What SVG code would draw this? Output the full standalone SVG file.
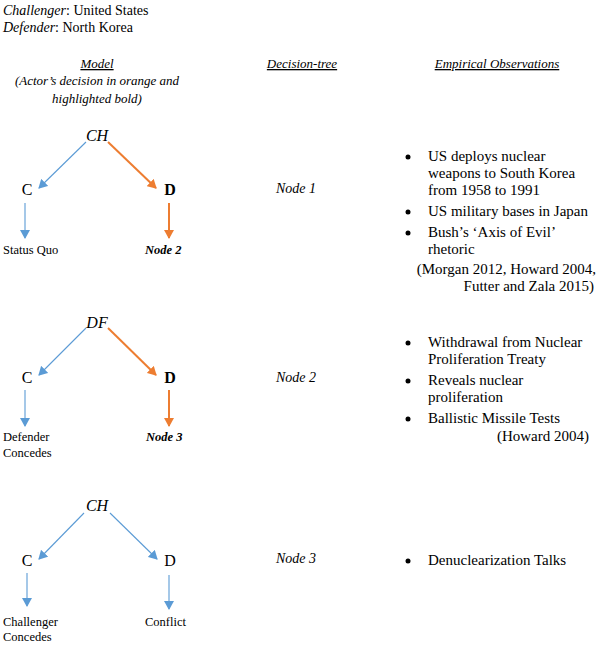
<svg xmlns="http://www.w3.org/2000/svg" width="603" height="651" viewBox="0 0 603 651">
<defs>
<marker id="ab" markerWidth="10" markerHeight="10" refX="8" refY="5" orient="auto" markerUnits="userSpaceOnUse"><path d="M0,0 L9,5 L0,10 z" fill="#5B9BD5"/></marker>
<marker id="ao" markerWidth="10" markerHeight="10" refX="8" refY="5" orient="auto" markerUnits="userSpaceOnUse"><path d="M0,0 L9,5 L0,10 z" fill="#ED7D31"/></marker>
<style>
text{font-family:"Liberation Serif","Times New Roman",serif;fill:#000}
.t{font-size:14px}
.h{font-size:13px}
.o{font-size:15px}
.i{font-style:italic}
.u{text-decoration:underline}
.n{font-size:16px}
.s{font-size:12.5px}
.b{font-weight:bold}
.m{text-anchor:middle}
.r{text-anchor:end}
.bl{stroke:#5B9BD5;stroke-width:1.1;fill:none;marker-end:url(#ab)}
.or{stroke:#ED7D31;stroke-width:2;fill:none;marker-end:url(#ao)}
</style>
</defs>
<rect width="603" height="651" fill="#fff"/>
<g id="header">
<text class="t" x="3" y="15"><tspan class="i">Challenger</tspan>: United States</text>
<text class="t" x="3" y="32"><tspan class="i">Defender</tspan>: North Korea</text>
<text class="h i u m" x="97" y="68">Model</text>
<text class="h i m" x="97" y="85">(Actor’s decision in orange and</text>
<text class="h i m" x="97" y="103">highlighted bold)</text>
<text class="h i u m" x="302" y="68">Decision-tree</text>
<text class="h i u m" x="497" y="68">Empirical Observations</text>
</g>
<g id="connectors">
<path class="bl" d="M86,142 L39,188"/>
<path class="or" d="M108,142 L156,188"/>
<path class="bl" d="M25,203 L25,238"/>
<path class="or" d="M169,203 L169,238"/>
<path class="bl" d="M86,328 L39,375"/>
<path class="or" d="M108,328 L156,375"/>
<path class="bl" d="M25,390 L25,426"/>
<path class="or" d="M169,390 L169,426"/>
<path class="bl" d="M84,513 L39,559"/>
<path class="bl" d="M110,513 L157,559"/>
<path class="bl" d="M27,573 L27,606"/>
<path class="bl" d="M169,575 L169,609"/>
</g>
<g id="tree1">
<text class="n i m" x="97" y="141">CH</text>
<text class="n m" x="27" y="195">C</text>
<text class="n b m" x="170" y="195">D</text>
<text class="s" x="3" y="254">Status Quo</text>
<text class="s b i" x="145" y="254">Node 2</text>
</g>
<g id="tree2">
<text class="n i m" x="97" y="328">DF</text>
<text class="n m" x="27" y="383">C</text>
<text class="n b m" x="170" y="383">D</text>
<text class="s" x="3" y="441">Defender</text>
<text class="s" x="3" y="457">Concedes</text>
<text class="s b i" x="146" y="441">Node 3</text>
</g>
<g id="tree3">
<text class="n i m" x="97" y="511">CH</text>
<text class="n m" x="27" y="566">C</text>
<text class="n m" x="170" y="566">D</text>
<text class="s" x="3" y="626">Challenger</text>
<text class="s" x="3" y="641">Concedes</text>
<text class="s" x="145" y="626">Conflict</text>
</g>
<g id="decision">
<text class="t i m" x="296" y="193">Node 1</text>
<text class="t i m" x="296" y="382">Node 2</text>
<text class="t i m" x="296" y="563">Node 3</text>
</g>
<g id="obs1">
<circle cx="408" cy="157" r="2.5"/>
<text class="o" x="428" y="161">US deploys nuclear</text>
<text class="o" x="428" y="178">weapons to South Korea</text>
<text class="o" x="428" y="195">from 1958 to 1991</text>
<circle cx="408" cy="212" r="2.5"/>
<text class="o" x="428" y="216">US military bases in Japan</text>
<circle cx="408" cy="233" r="2.5"/>
<text class="o" x="428" y="237">Bush’s ‘Axis of Evil’</text>
<text class="o" x="428" y="254">rhetoric</text>
<text class="o r" x="596" y="274">(Morgan 2012, Howard 2004,</text>
<text class="o r" x="594" y="291">Futter and Zala 2015)</text>
</g>
<g id="obs2">
<circle cx="408" cy="343" r="2.5"/>
<text class="o" x="428" y="347">Withdrawal from Nuclear</text>
<text class="o" x="428" y="364">Proliferation Treaty</text>
<circle cx="408" cy="381" r="2.5"/>
<text class="o" x="428" y="385">Reveals nuclear</text>
<text class="o" x="428" y="402">proliferation</text>
<circle cx="408" cy="419" r="2.5"/>
<text class="o" x="428" y="423">Ballistic Missile Tests</text>
<text class="o r" x="589" y="441">(Howard 2004)</text>
</g>
<g id="obs3">
<circle cx="408" cy="561" r="2.5"/>
<text class="o" x="428" y="565">Denuclearization Talks</text>
</g>
</svg>
